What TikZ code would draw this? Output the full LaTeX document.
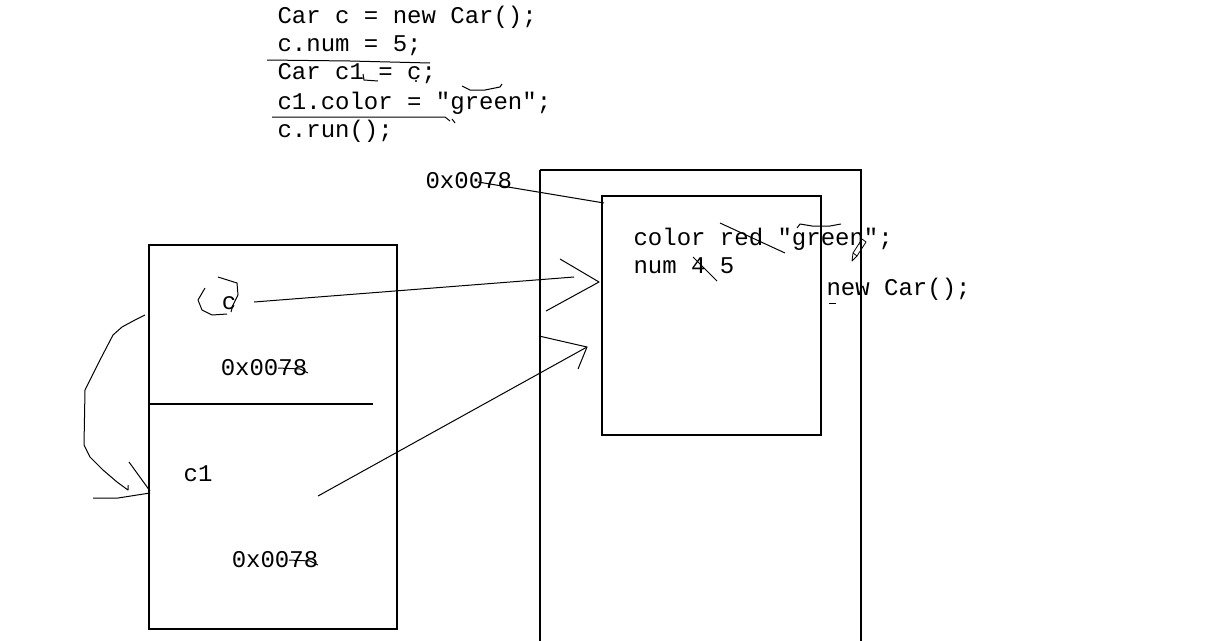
\documentclass[tikz,border=0pt]{standalone}
\usepackage{fontspec}
\setmainfont{Liberation Serif}
\setmonofont{Liberation Mono}
\usetikzlibrary{positioning,calc}

\begin{document}
\begin{tikzpicture}[
        x=1pt, y=-1pt,
        line width=1.1pt,
        every node/.style={font=\fontsize{24}{28}\selectfont\ttfamily, inner sep=0pt},
        codeline/.style={anchor=base west},
        pen/.style={line width=1pt, line join=round}
      ]

        \useasboundingbox (0,0) rectangle (1222,640);

        % Code ----------------------------------------------------
        \node[codeline] (l1) at (277,23)  {Car c = new Car();};
        \node[codeline] (l2) at (277,51)  {c.num = 5;};
        \node[codeline] (l3) at (277,79)  {Car c1 = c;};
        \node[codeline] (l4) at (277,109) {c1.color = ″green″;};
        \node[codeline] (l5) at (277,137) {c.run();};

        % scribbles on the code
        \draw[pen] (267,60) -- (350,61) -- (430,63);
        \draw[pen] (363,74) -- (364,80) -- (378,81);
        \fill (416,81) circle (1.2pt);
        \draw[pen] (462,86) -- (470,90) -- (485,90) -- (500,87) -- (502,84);
        \draw[pen] (272,117) -- (445,117) -- (450,121);
        \draw[pen] (452,119) -- (455,123);

        % Stack ---------------------------------------------------
        \draw (149,245) rectangle (397,629);
        \draw (149,404) -- (373,404);

        \node[anchor=base] (c)     at (229,309) {c};
        \node[anchor=base] (addr1) at (264,375) {0x0078};
        \node[anchor=base] (c1)    at (198,481) {c1};
        \node[anchor=base] (addr2) at (275,567) {0x0078};

        % circle round c
        \draw[pen] (218,277) -- (237,283) -- (238,295) -- (233,305) -- (231,312);
        \draw[pen] (205,288) -- (198,300) -- (202,310) -- (212,315) -- (227,314);

        % strokes on the addresses
        \draw[pen] (278,368) -- (300,369) -- (308,373);
        \draw[pen] (289,560) -- (310,561) -- (318,565);

        % c1 = c : curved arrow
        \draw[pen] (145,315) -- (135,320) -- (122,327) -- (113,335) -- (100,360)
              -- (85,390) -- (84,445) -- (90,457) -- (103,470) -- (117,482)
              -- (128,490) -- (128,485);
        \draw[pen] (129,462) -- (150,491);
        \draw[pen] (93,498) -- (118,498) -- (150,493);

        % Heap ----------------------------------------------------
        \draw (540,170) -- (861,170) -- (861,645);
        \draw (540,645) -- (540,170);
        \draw (602,196) rectangle (821,435);

        \node[anchor=base west] (haddr) at (425,188) {0x0078};
        \coordinate (hcorner) at (604,203);
        \draw[pen] (478,182) -- (hcorner);

        \node[anchor=base west] (fcolor) at (633,245) {color red ″green″;};
        \node[anchor=base west] (fnum)   at (633,273) {num 4 5};
        \node[anchor=base west] (newcar) at (826,295) {new Car();};

        % scribbles on the fields
        \draw[pen] (720,223) -- (785,253);
        \draw[pen] (797,228) -- (800,224) -- (812,226) -- (830,226) -- (841,224);
        \draw[pen] (693,257) -- (717,281);
        \draw[pen] (829,303) -- (836,303);

        % pencil cursor
        \draw[pen, line width=0.8pt] (862,239) -- (866,242) -- (857,256) -- (853,253) -- cycle;
        \draw[pen, line width=0.8pt] (853,253) -- (852,261) -- (857,256);

        % References ----------------------------------------------
        \coordinate (tip1) at (599,282);
        \coordinate (tip2) at (587,347);

        \draw[pen] (254,302) -- (574,277);
        \draw[pen] (560,259) -- (tip1) -- (546,311);

        \draw[pen] (318,496) -- (tip2);
        \draw[pen] (539,336) -- (tip2) -- (578,369);

      \end{tikzpicture}
\end{document}
